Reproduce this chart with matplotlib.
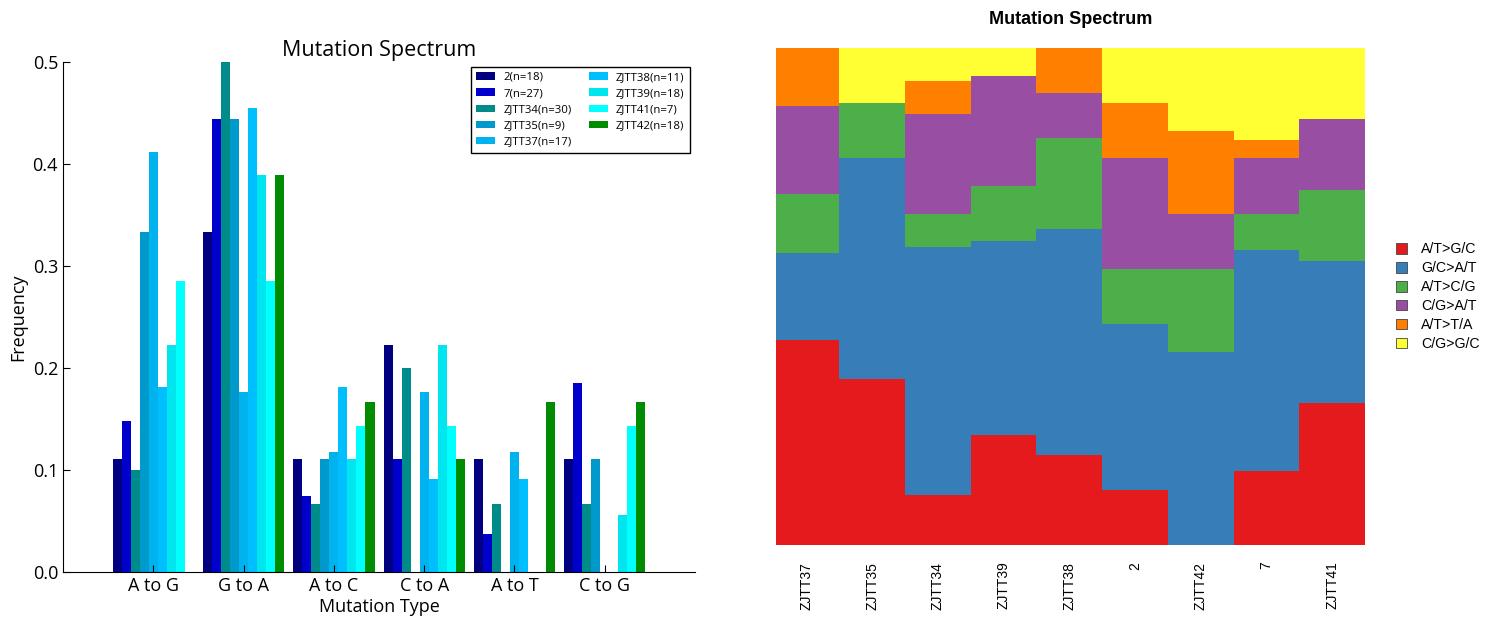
import numpy as np
import matplotlib.pyplot as plt
from matplotlib.patches import Patch

# mutation counts per sample (A to G, G to A, A to C, C to A, A to T, C to G)
mut_types = ["A to G", "G to A", "A to C", "C to A", "A to T", "C to G"]
mut_labels = ["A/T>G/C", "G/C>A/T", "A/T>C/G", "C/G>A/T", "A/T>T/A", "C/G>G/C"]
samples = ["2", "7", "ZJTT34", "ZJTT35", "ZJTT37", "ZJTT38", "ZJTT39", "ZJTT41", "ZJTT42"]
counts = {
    "2":      [2, 6, 2, 4, 2, 2],
    "7":      [4, 12, 2, 3, 1, 5],
    "ZJTT34": [3, 15, 2, 6, 2, 2],
    "ZJTT35": [3, 4, 1, 0, 0, 1],
    "ZJTT37": [7, 3, 2, 3, 2, 0],
    "ZJTT38": [2, 5, 2, 1, 1, 0],
    "ZJTT39": [4, 7, 2, 4, 0, 1],
    "ZJTT41": [2, 2, 1, 1, 0, 1],
    "ZJTT42": [0, 7, 3, 2, 3, 3],
}
stack_order = ["ZJTT37", "ZJTT35", "ZJTT34", "ZJTT39", "ZJTT38", "2", "ZJTT42", "7", "ZJTT41"]

bar_colors = ["#000080", "#0000cd", "#008b8b", "#0099cc", "#00b2ee",
              "#00bfff", "#00e5ee", "#00ffff", "#008b00"]
set1 = ["#e41a1c", "#377eb8", "#4daf4a", "#984ea3", "#ff7f00", "#ffff33"]

plt.rcParams['font.family'] = ['Open Sans', 'DejaVu Sans']
fig = plt.figure(figsize=(14.89, 6.19), dpi=100)

# left: grouped frequency bars
ax1 = fig.add_axes([0.0423, 0.0759, 0.4245, 0.824])
idx = np.arange(len(mut_types))
w = 0.1
for i, s in enumerate(samples):
    c = np.array(counts[s], dtype=float)
    n = int(c.sum())
    ax1.bar(idx - 0.45 + i * w, c / n, width=w, align="edge", color=bar_colors[i],
            linewidth=0, label="%s(n=%d)" % (s, n))
ax1.set_xlim(-1, 6)
ax1.set_ylim(0, 0.5)
ax1.set_xticks(idx)
ax1.set_xticklabels(mut_types, fontsize=13)
ax1.set_yticks(np.arange(0, 0.51, 0.1))
ax1.set_yticklabels(["%.1f" % v for v in np.arange(0, 0.51, 0.1)], fontsize=13)
ax1.tick_params(direction="in", length=5, top=False, right=False)
ax1.spines["top"].set_visible(False)
ax1.spines["right"].set_visible(False)
ax1.set_xlabel("Mutation Type", fontsize=13, labelpad=2)
ax1.set_ylabel("Frequency", fontsize=13, labelpad=4)
ax1.set_title("Mutation Spectrum", fontsize=15.5, pad=4)
leg1 = ax1.legend(ncol=2, fontsize=8.2, loc="upper right", bbox_to_anchor=(0.995, 0.995),
                  borderaxespad=0.2, fancybox=False, edgecolor="black", framealpha=1,
                  handlelength=1.7, handleheight=0.6, handletextpad=0.7,
                  columnspacing=1.5, labelspacing=0.45, borderpad=0.45)
leg1.get_frame().set_linewidth(1)

# right: stacked proportions per sample
ax2 = fig.add_axes([0.5212, 0.1195, 0.3956, 0.803])
x = np.arange(len(stack_order))
bottom = np.zeros(len(stack_order))
for k, lab in enumerate(mut_labels):
    vals = np.array([counts[s][k] / sum(counts[s]) for s in stack_order])
    ax2.bar(x, vals, width=1.0, bottom=bottom, color=set1[k], linewidth=0)
    bottom += vals
ax2.set_xlim(-0.46, 8.5)
ax2.set_ylim(0, 1)
ax2.set_xticks(x)
ax2.set_xticklabels(stack_order, rotation=90, va="top", fontsize=10, family="Liberation Sans")
ax2.tick_params(length=0, pad=12)
ax2.set_yticks([])
for sp in ax2.spines.values():
    sp.set_visible(False)
ax2.set_title("Mutation Spectrum", fontsize=13, fontweight="bold", family="Liberation Sans", pad=17)
handles = [Patch(facecolor=set1[k], edgecolor="#444444", linewidth=0.6) for k in range(6)]
ax2.legend(handles, mut_labels, loc="center left", bbox_to_anchor=(1.03, 0.5), frameon=False,
           prop={"family": "Liberation Sans", "size": 10.2}, handlelength=0.8, handleheight=0.8,
           labelspacing=0.35, handletextpad=1.0)

fig.savefig("out.png", dpi=100)
